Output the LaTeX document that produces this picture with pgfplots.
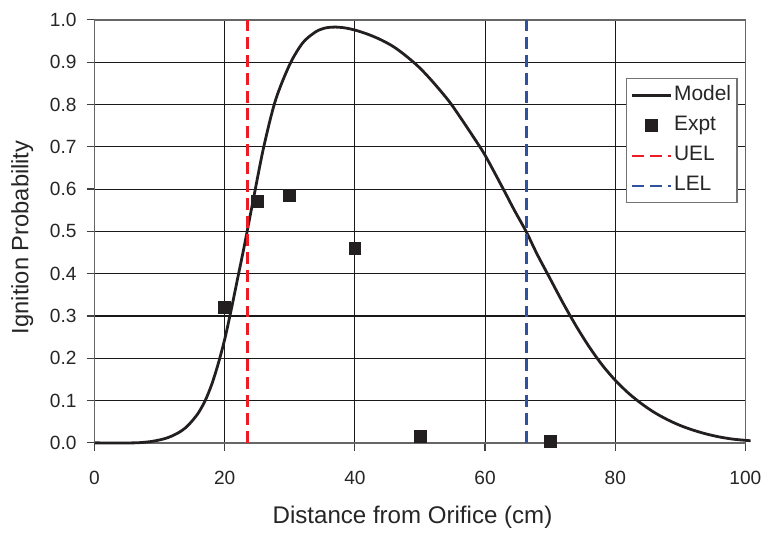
\documentclass[border=0pt]{standalone}
\usepackage{pgfplots}
\pgfplotsset{compat=1.18}
\usepackage{fontspec}
\setmainfont{Liberation Sans}
\definecolor{uelred}{RGB}{237,28,36}
\definecolor{lelblue}{RGB}{48,80,160}
\definecolor{curveblack}{RGB}{35,31,32}
\pgfplotsset{
  lineleg/.style={legend image code/.code={\draw[##1] (0pt,0pt) -- (19.5pt,0pt);}},
  dashleg/.style={legend image code/.code={\draw[##1, line width=1pt] (0pt,0pt) -- (19.5pt,0pt);}},
  markleg/.style={legend image code/.code={\draw[##1] plot coordinates {(9.75pt,0pt)};}},
}
\begin{document}
\begin{tikzpicture}
\begin{axis}[
  at={(0,0)}, anchor=south west,
  scale only axis, width=327pt, height=212.5pt,
  xmin=0, xmax=100, ymin=0, ymax=1,
  xtick={0,20,40,60,80,100},
  ytick={0,0.1,0.2,0.3,0.4,0.5,0.6,0.7,0.8,0.9,1.0},
  xtick pos=bottom, ytick pos=left,
  tick align=outside, major tick length=4pt,
  tick style={black!75, line width=0.6pt},
  grid=major,
  major grid style={black!90, line width=0.55pt},
  axis line style={black!60, line width=0.7pt},
  /pgf/number format/assume math mode=true,
  yticklabel={\pgfmathprintnumber[fixed,fixed zerofill,precision=1]{\tick}},
  ticklabel style={font=\fontsize{9.6}{11}\selectfont, text=black!85},
  xticklabel style={yshift=-6.5pt},
  yticklabel style={xshift=-1.5pt},
  xlabel={Distance from Orifice (cm)},
  ylabel={Ignition Probability},
  label style={font=\fontsize{11.9}{13}\selectfont, text=black!85},
  xlabel style={font=\fontsize{12.1}{13}\selectfont, at={(axis description cs:0.4885,-0.19)}, anchor=base},
  ylabel style={at={(axis description cs:-0.111,0.486)}, anchor=center},
  clip=false,
  legend cell align=left,
  legend style={at={(axis description cs:0.8165,0.8635)}, anchor=north west,
    draw=black!55, line width=0.6pt, fill=white,
    font=\fontsize{10.5}{12}\selectfont,
    inner xsep=2pt, inner ysep=2.5pt, row sep=3.2pt,
    nodes={inner sep=1pt, text height=7.5pt, text depth=2.5pt, text=black!85}},
]
\addplot[curveblack, line width=1.4pt, smooth, lineleg]
  coordinates {
  (0,0) (6,0) (8,0.002) (9,0.004) (10,0.007) (11,0.011) (12,0.017)
  (13,0.025) (14,0.036) (15,0.052) (16,0.072) (17,0.1) (18,0.138)
  (19,0.187) (20,0.245) (21,0.315) (22,0.39) (23,0.465)
  (24.5,0.584) (26,0.70) (27.8,0.81) (30,0.895) (32,0.946)
  (34,0.972) (35.5,0.981) (37,0.983) (38.5,0.981) (40,0.976) (42,0.966)
  (44,0.953) (46,0.936) (48,0.913) (50,0.886) (52,0.853) (54.4,0.809)
  (56,0.774) (58,0.728) (60,0.68) (62.8,0.6) (64.5,0.55) (66.3,0.5)
  (68,0.446) (70,0.388) (72,0.33) (74,0.276) (76,0.227) (78,0.184)
  (80,0.148) (82,0.118) (84,0.093) (86,0.072) (88,0.055) (90,0.041)
  (92,0.03) (94,0.021) (96,0.014) (98,0.009) (100,0.006) (100.8,0.005)
  };
\addlegendentry{Model}
\addplot[only marks, mark=square*, mark size=3pt, mark options={fill=curveblack, draw=curveblack}, markleg]
  coordinates {(20,0.32) (25,0.57) (30,0.585) (40,0.46) (50,0.015) (70,0.003)};
\addlegendentry{Expt}
\addplot[uelred, line width=1.5pt, dash pattern=on 6pt off 3pt, dashleg]
  coordinates {(23.5,0) (23.5,1)};
\addlegendentry{UEL}
\addplot[lelblue, line width=1.5pt, dash pattern=on 6pt off 3pt, dashleg]
  coordinates {(66.3,0) (66.3,1)};
\addlegendentry{LEL}
\end{axis}
\path (-47.5pt,-42.5pt) rectangle (336.5pt,222.5pt);
\end{tikzpicture}
\end{document}
